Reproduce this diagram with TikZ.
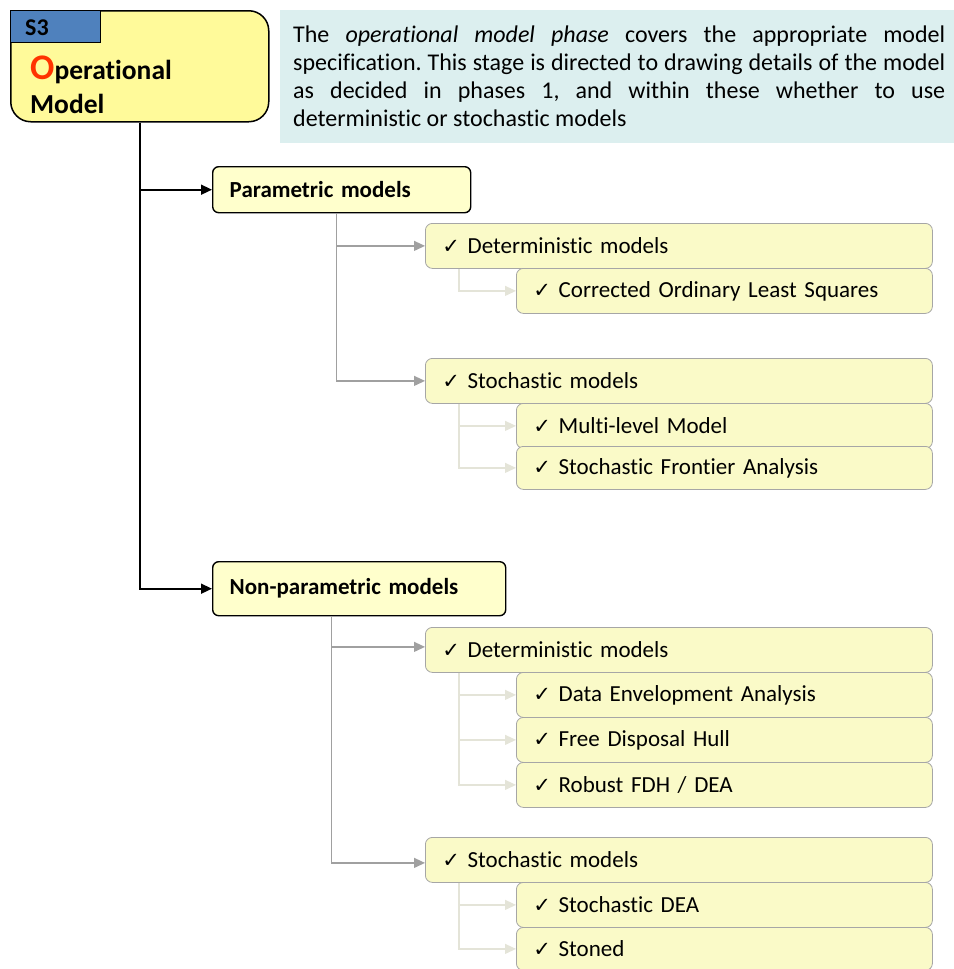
\documentclass[tikz,border=0pt]{standalone}
\usepackage{fontspec}
\setmainfont[Ligatures=NoCommon]{Carlito}
\newfontfamily\dejavu{DejaVu Sans}
\usetikzlibrary{arrows.meta}
\definecolor{phasefill}{HTML}{FFFA9A}
\definecolor{tabblue}{HTML}{4F81BD}
\definecolor{notefill}{HTML}{DCEFEF}
\definecolor{groupfill}{HTML}{FFFFCC}
\definecolor{itemfill}{HTML}{FAFAC8}
\definecolor{itemline}{HTML}{A6A6A6}
\definecolor{branchgray}{HTML}{A0A0A0}
\definecolor{leafline}{HTML}{E4E4D8}
\definecolor{firstletter}{HTML}{FF3300}
\newcommand\chk{{\dejavu\fontsize{21}{21}\selectfont ✓}}
\begin{document}
\begin{tikzpicture}[x=1pt,y=-1pt,
  phase/.style={draw=black, line width=1.5pt, fill=phasefill, rounded corners=20pt,
    anchor=north west, minimum width=258pt, minimum height=111pt, inner sep=0pt},
  group/.style={draw=black, line width=1.4pt, fill=groupfill, rounded corners=6pt,
    anchor=north west, inner xsep=17pt, inner ysep=0pt, align=left,
    font=\fontsize{23}{26}\selectfont\bfseries},
  item/.style={draw=itemline, line width=0.8pt, fill=itemfill, rounded corners=7pt,
    anchor=north west, inner xsep=17pt, inner ysep=0pt, align=left,
    minimum height=45pt, font=\fontsize{23}{26}\selectfont},
  top/.style={item, text width=473pt},
  leaf/.style={item, text width=382pt},
  mainlink/.style={draw=black, line width=1.6pt, -{Triangle[length=11pt,width=10pt]}},
  branch/.style={draw=branchgray, line width=1.2pt, -{Triangle[length=11pt,width=10pt]}},
  leaflink/.style={draw=leafline, line width=1.2pt, -{Triangle[length=11pt,width=10pt]}}
]
\useasboundingbox (0,0) rectangle (953,969);

% phase box with its tab
\node[phase] (s3) at (10,10) {};
\node[draw=black, line width=1.2pt, fill=tabblue, anchor=north west,
  minimum width=90pt, minimum height=32pt, inner sep=0pt] (tab) at (10,10) {};
\node[anchor=base west, inner sep=0pt, font=\fontsize{24}{24}\selectfont\bfseries]
  (tabtext) at (25,35) {S3};
\node[anchor=base west, inner sep=0pt, font=\bfseries] (title1) at (30,79)
  {{\fontsize{36}{36}\selectfont\color{firstletter}O}{\fontsize{27.5}{27.5}\selectfont perational}};
\node[anchor=base west, inner sep=0pt, font=\fontsize{27.5}{27.5}\selectfont\bfseries]
  (title2) at (30,113) {Model};

% explanatory note
\node[fill=notefill, anchor=north west, minimum width=673pt, minimum height=133pt,
  text width=652pt, inner xsep=13pt, inner ysep=0pt, align=justify,
  font=\fontsize{24}{28}\selectfont] (note) at (280,10)
  {\frenchspacing\hyphenpenalty=10000 The \textit{operational model phase} covers the appropriate model\linebreak
   specification. This stage is directed to drawing details of the model\linebreak
   as decided in phases 1, and within these whether to use\linebreak
   deterministic or stochastic models};

% model families
\node[group, minimum height=46pt, text width=224pt] (par) at (212,166) {Parametric models};
\node[group, minimum height=54pt, text width=259pt] (npar) at (212,561) {Non-parametric models};

% parametric branch
\node[top] (pdet) at (425,223) {\chk\ Deterministic models};
\node[leaf] (cols) at (516,268) {\chk\ Corrected Ordinary Least Squares};
\node[top] (psto) at (425,358) {\chk\ Stochastic models};
\node[leaf] (mlm) at (516,403) {\chk\ Multi-level Model};
\node[leaf, minimum height=43pt] (sfa) at (516,446) {\chk\ Stochastic Frontier Analysis};

% non-parametric branch
\node[top] (ndet) at (425,627) {\chk\ Deterministic models};
\node[leaf] (dea) at (516,672) {\chk\ Data Envelopment Analysis};
\node[leaf] (fdh) at (516,717) {\chk\ Free Disposal Hull};
\node[leaf] (rob) at (516,762) {\chk\ Robust FDH / DEA};
\node[top] (nsto) at (425,837) {\chk\ Stochastic models};
\node[leaf] (sdea) at (516,882) {\chk\ Stochastic DEA};
\node[leaf, minimum height=43pt] (stoned) at (516,927) {\chk\ Stoned};

% connectors
\draw[mainlink] (s3.south) |- (par.west);
\draw[mainlink] (s3.south) |- (npar.west);

\draw[branch] ([xshift=-5pt]par.south) |- (pdet.west);
\draw[branch] ([xshift=-5pt]par.south) |- (psto.west);
\draw[branch] ([xshift=-28pt]npar.south) |- ([yshift=3pt]ndet.west);
\draw[branch] ([xshift=-28pt]npar.south) |- ([yshift=-3pt]nsto.west);

\draw[leaflink] ([xshift=34pt]pdet.south west) |- (cols.west);
\draw[leaflink] ([xshift=34pt]psto.south west) |- (mlm.west);
\draw[leaflink] ([xshift=34pt]psto.south west) |- (sfa.west);
\draw[leaflink] ([xshift=34pt]ndet.south west) |- (dea.west);
\draw[leaflink] ([xshift=34pt]ndet.south west) |- (fdh.west);
\draw[leaflink] ([xshift=34pt]ndet.south west) |- (rob.west);
\draw[leaflink] ([xshift=34pt]nsto.south west) |- (sdea.west);
\draw[leaflink] ([xshift=34pt]nsto.south west) |- (stoned.west);
\end{tikzpicture}
\end{document}
